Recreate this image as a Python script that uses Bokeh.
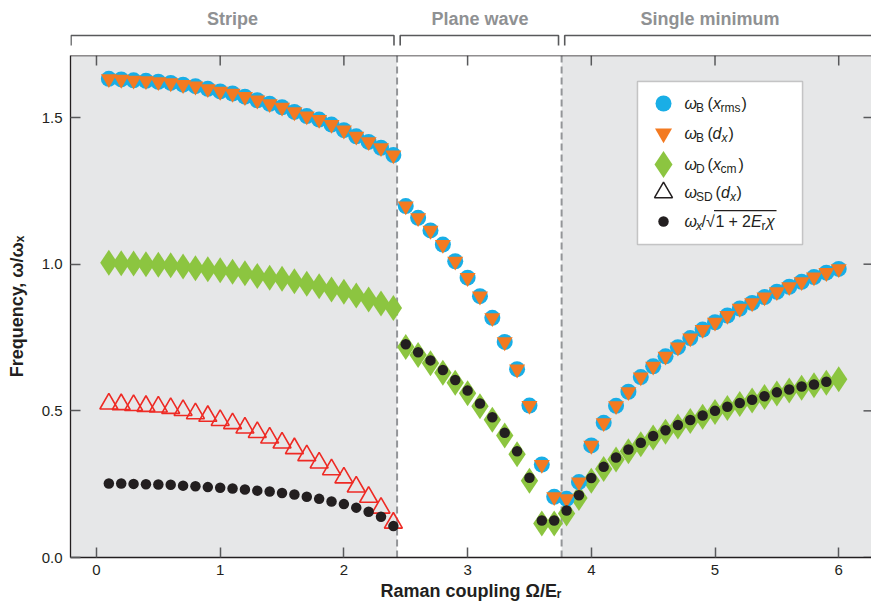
from bokeh.plotting import figure
from bokeh.models import (Range1d, FixedTicker, PrintfTickFormatter,
                          BoxAnnotation, Span, Label)
from bokeh.layouts import column
from bokeh.embed import file_html
from bokeh.resources import INLINE
from bokeh.core.properties import value

# ---------------- data ----------------
x_all = [0.1, 0.2, 0.3, 0.4, 0.5, 0.6, 0.7, 0.8, 0.9, 1.0,
         1.1, 1.2, 1.3, 1.4, 1.5, 1.6, 1.7, 1.8, 1.9, 2.0,
         2.1, 2.2, 2.3, 2.4, 2.5, 2.6, 2.7, 2.8, 2.9, 3.0,
         3.1, 3.2, 3.3, 3.4, 3.5, 3.6, 3.7, 3.8, 3.9, 4.0,
         4.1, 4.2, 4.3, 4.4, 4.5, 4.6, 4.7, 4.8, 4.9, 5.0,
         5.1, 5.2, 5.3, 5.4, 5.5, 5.6, 5.7, 5.8, 5.9, 6.0]

# omega_B from x_rms (blue circles)
omega_B_xrms = [1.632, 1.630, 1.627, 1.625, 1.622, 1.618, 1.612, 1.607, 1.598, 1.589,
                1.582, 1.571, 1.559, 1.547, 1.535, 1.519, 1.505, 1.493, 1.476, 1.457,
                1.436, 1.417, 1.397, 1.372,
                1.198, 1.158, 1.115, 1.067, 1.010, 0.954, 0.891, 0.817, 0.735, 0.642,
                0.518, 0.317, 0.207,
                0.200, 0.257, 0.382, 0.459, 0.517, 0.565, 0.615, 0.652, 0.686, 0.717,
                0.748, 0.777, 0.802, 0.825, 0.849, 0.868, 0.888, 0.906, 0.923, 0.940,
                0.956, 0.971, 0.984]

# omega_B from d_x (orange inverted triangles)
omega_B_dx = [1.632, 1.630, 1.627, 1.625, 1.622, 1.618, 1.612, 1.607, 1.598, 1.589,
              1.582, 1.571, 1.559, 1.547, 1.535, 1.519, 1.505, 1.493, 1.476, 1.457,
              1.436, 1.417, 1.397, 1.372,
              1.198, 1.158, 1.115, 1.067, 1.010, 0.954, 0.891, 0.817, 0.735, 0.642,
              0.518, 0.317, 0.207,
              0.200, 0.257, 0.382, 0.459, 0.517, 0.565, 0.615, 0.652, 0.686, 0.717,
              0.748, 0.777, 0.802, 0.825, 0.849, 0.868, 0.888, 0.906, 0.923, 0.940,
              0.956, 0.971, 0.984]

# omega_D from x_cm (green diamonds)
omega_D_xcm = [1.005, 1.003, 1.002, 1.000, 0.998, 0.996, 0.992, 0.986, 0.983, 0.979,
               0.974, 0.969, 0.960, 0.954, 0.950, 0.942, 0.933, 0.925, 0.914, 0.906,
               0.893, 0.880, 0.866, 0.851,
               0.718, 0.690, 0.662, 0.630, 0.596, 0.560, 0.516, 0.470, 0.416, 0.352,
               0.262, 0.116, 0.116,
               0.150, 0.203, 0.262, 0.302, 0.334, 0.362, 0.386, 0.409, 0.429, 0.447,
               0.465, 0.480, 0.496, 0.510, 0.523, 0.535, 0.547, 0.559, 0.569, 0.579,
               0.587, 0.596, 0.608]

# omega_SD from d_x (open red triangles, stripe phase only)
x_stripe = x_all[:24]
omega_SD_dx = [0.524, 0.522, 0.519, 0.516, 0.514, 0.509, 0.502, 0.491, 0.482, 0.468,
               0.457, 0.442, 0.427, 0.408, 0.391, 0.372, 0.348, 0.323, 0.300, 0.272,
               0.241, 0.206, 0.169, 0.118]

# omega_x / sqrt(1 + 2 E_r chi) (black dots)
x_theory = x_all[:59]
omega_theory = [0.252, 0.252, 0.251, 0.250, 0.249, 0.248, 0.245, 0.243, 0.240, 0.238,
                0.235, 0.232, 0.228, 0.225, 0.220, 0.215, 0.207, 0.200, 0.191, 0.182,
                0.170, 0.156, 0.139, 0.107,
                0.727, 0.700, 0.672, 0.639, 0.605, 0.569, 0.525, 0.478, 0.425, 0.362,
                0.272, 0.126, 0.126,
                0.160, 0.212, 0.271, 0.309, 0.341, 0.368, 0.391, 0.414, 0.434, 0.452,
                0.469, 0.484, 0.500, 0.514, 0.527, 0.538, 0.550, 0.563, 0.573, 0.583,
                0.590, 0.599]

phase_boundaries = [2.43, 3.76]
phase_names = ["Stripe", "Plane wave", "Single minimum"]
x_ticks = [0, 1, 2, 3, 4, 5, 6]
y_ticks = [0.0, 0.5, 1.0, 1.5]

# ---------------- styling ----------------
FONT = "Liberation Sans"
INK = "#231f20"
TICK = "#58595b"
GRAY_BG = "#e6e7e8"
C_BLUE = "#19aee6"
C_ORANGE = "#f37a21"
C_GREEN = "#8cc540"
C_RED = "#ee2a24"

PX_X = 123.7   # pixels per x unit
PX_Y = 293.3   # pixels per y unit
XL, XR = -0.21, 6.265
YB, YT = 0.0, 1.7115

# reference-pixel -> data helpers (layout of the hand-built legend)
def dx(px):
    return (px - 96.0) / PX_X

def dy(py):
    return (557.0 - py) / PX_Y

p = figure(width=871, height=549, x_range=Range1d(XL, XR), y_range=Range1d(YB, YT),
           output_backend="svg", toolbar_location=None,
           min_border_left=70, min_border_right=0, min_border_top=0, min_border_bottom=47,
           background_fill_color="white", border_fill_color="white",
           outline_line_color=None)
p.grid.visible = False

# shaded phase regions and boundaries
p.add_layout(BoxAnnotation(right=phase_boundaries[0], fill_color=GRAY_BG, fill_alpha=1,
                           line_color=None, level="underlay"))
p.add_layout(BoxAnnotation(left=phase_boundaries[1], fill_color=GRAY_BG, fill_alpha=1,
                           line_color=None, level="underlay"))
for b in phase_boundaries:
    p.add_layout(Span(location=b, dimension="height", line_color="#939598",
                      line_width=2, line_dash="7 4", level="underlay"))

# frame top line and inward ticks on top / right sides
p.add_layout(Span(location=YT, dimension="width", line_color=INK, line_width=1.3))
p.segment(x0=x_ticks, y0=[YT] * len(x_ticks), x1=x_ticks,
          y1=[YT - 10 / PX_Y] * len(x_ticks), line_color=TICK, line_width=1.5)
p.segment(x0=[XR] * len(y_ticks), y0=y_ticks, x1=[XR - 8 / PX_X] * len(y_ticks),
          y1=y_ticks, line_color=TICK, line_width=1.5)

# data
p.scatter(x_all, omega_D_xcm, marker="diamond", size=26, fill_color=C_GREEN, line_color=None)
p.scatter(x_all, omega_B_xrms, marker="circle", size=16, fill_color=C_BLUE, line_color=None)
p.scatter(x_all, omega_B_dx, marker="inverted_triangle", size=16, fill_color=C_ORANGE, line_color=None)
p.scatter(x_stripe, omega_SD_dx, marker="triangle", size=18, fill_color=None,
          line_color=C_RED, line_width=1.6)
p.scatter(x_theory, omega_theory, marker="circle", size=10.5, fill_color=INK, line_color=None)

# axes
def style_axis(ax):
    ax.major_tick_in = 10
    ax.major_tick_out = 0
    ax.minor_tick_line_color = None
    ax.axis_line_color = INK
    ax.axis_line_width = 1.3
    ax.major_tick_line_color = TICK
    ax.major_tick_line_width = 1.5
    ax.major_label_text_font = FONT
    ax.major_label_text_font_size = "15px"
    ax.major_label_text_color = INK
    ax.axis_label_text_font = FONT
    ax.axis_label_text_font_style = "bold"
    ax.axis_label_text_font_size = "18px"
    ax.axis_label_text_color = INK

xa = p.xaxis[0]
style_axis(xa)
xa.ticker = FixedTicker(ticks=x_ticks)
xa.major_label_standoff = 7
xa.axis_label = "Raman coupling Ω/Eᵣ"
xa.axis_label_standoff = 3

ya = p.yaxis[0]
style_axis(ya)
ya.ticker = FixedTicker(ticks=y_ticks)
ya.formatter = PrintfTickFormatter(format="%.1f")
ya.major_label_standoff = 8
ya.axis_label = "Frequency, ω/ωₓ"
ya.axis_label_standoff = 12

# ---------------- legend (hand built for sub-scripted labels) ----------------
leg_left, leg_right, leg_top, leg_bottom = 637, 802, 81, 244
p.add_layout(BoxAnnotation(left=dx(leg_left), right=dx(leg_right), top=dy(leg_top),
                           bottom=dy(leg_bottom), fill_color="white", fill_alpha=1,
                           line_color=TICK, line_width=1.5, level="underlay"))
row_py = [103, 133, 164, 192, 221]
key_x = dx(663)
text_x = dx(684)
key_styles = [
    dict(marker="circle", size=16, fill_color=C_BLUE, line_color=None),
    dict(marker="inverted_triangle", size=17, fill_color=C_ORANGE, line_color=None),
    dict(marker="diamond", size=27, fill_color=C_GREEN, line_color=None),
    dict(marker="triangle", size=18, fill_color=None, line_color=INK, line_width=1.5),
    dict(marker="circle", size=10.5, fill_color=INK, line_color=None),
]
for py, st in zip(row_py, key_styles):
    p.scatter([key_x], [dy(py)], **st)

# pieces: (text, x offset px, italic?, subscript?)
rows = [
    [("ω", 0, True, False), ("B", 11.5, False, True), ("(", 23, False, False),
     ("x", 28.5, True, False), ("rms", 36, False, True), (")", 57, False, False)],
    [("ω", 0, True, False), ("B", 11.5, False, True), ("(", 23, False, False),
     ("d", 28, True, False), ("x", 37, True, True), (")", 44, False, False)],
    [("ω", 0, True, False), ("D", 11.5, False, True), ("(", 23, False, False),
     ("x", 28.5, True, False), ("cm", 36, False, True), (")", 54, False, False)],
    [("ω", 0, True, False), ("SD", 11.5, False, True), ("(", 31, False, False),
     ("d", 36.5, True, False), ("x", 45.5, True, True), (")", 52, False, False)],
    [("ω", 0, True, False), ("x", 11.5, True, True), ("/", 17, False, False),
     ("√", 21.5, False, False), ("1", 31, False, False), ("+", 44, False, False),
     ("2", 57.5, False, False), ("E", 66.5, True, False), ("r", 77, False, True),
     ("χ", 81.5, True, False)],
]
for py, pieces in zip(row_py, rows):
    for txt, off, ital, sub in pieces:
        p.add_layout(Label(x=text_x, y=dy(py), x_offset=off, y_offset=(-5 if sub else 0),
                           text=txt, text_font=FONT,
                           text_font_size=("12px" if sub else "16px"),
                           text_font_style=("italic" if ital else "normal"),
                           text_color=INK, text_baseline="middle", text_align="left"))
# vinculum of the square root
p.add_layout(BoxAnnotation(left=dx(713.5), right=dx(776), top=dy(209.4), bottom=dy(210.7),
                           fill_color=INK, fill_alpha=1, line_color=None))

# ---------------- top strip with phase brackets ----------------
pt = figure(width=871, height=55, x_range=p.x_range, y_range=Range1d(55, 0),
            output_backend="svg", toolbar_location=None,
            x_axis_location=None, y_axis_location=None,
            min_border_left=70, min_border_right=0, min_border_top=0, min_border_bottom=0,
            outline_line_color=None, background_fill_color="white")
pt.grid.visible = False
gap = 0.025
spans = [(XL + 0.004, phase_boundaries[0] - gap),
         (phase_boundaries[0] + gap, phase_boundaries[1] - gap),
         (phase_boundaries[1] + gap, XR + 0.2)]
pt.multi_line(xs=[[a, a, b, b] for a, b in spans],
              ys=[[45, 35, 35, 45] for _ in spans],
              line_color=TICK, line_width=1.6)
phase_label_x = [1.10, 3.10, 4.96]
pt.text(x=phase_label_x, y=[18, 18, 18], text=phase_names, text_align="center",
        text_baseline="middle", text_font=value(FONT), text_font_style="bold",
        text_font_size="18px", text_color="#8f9193")

layout = column(pt, p, spacing=0)
open("out.html", "w").write(file_html(layout, INLINE))
